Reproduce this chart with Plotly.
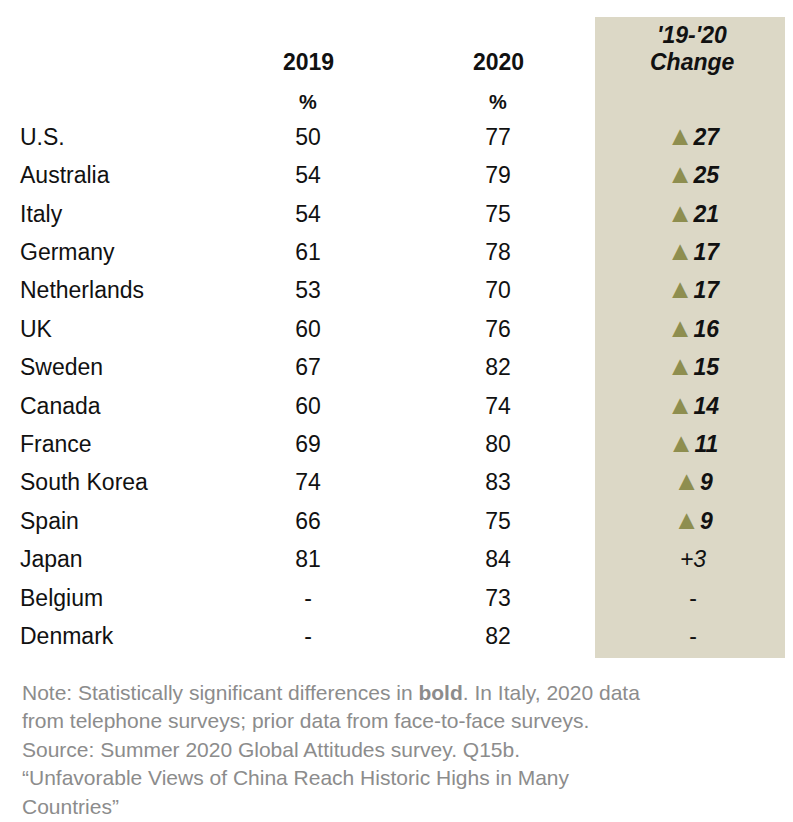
import plotly.graph_objects as go

countries = ["U.S.", "Australia", "Italy", "Germany", "Netherlands", "UK", "Sweden",
             "Canada", "France", "South Korea", "Spain", "Japan", "Belgium", "Denmark"]
v2019 = ["50", "54", "54", "61", "53", "60", "67", "60", "69", "74", "66", "81", "-", "-"]
v2020 = ["77", "79", "75", "78", "70", "76", "82", "74", "80", "83", "75", "84", "73", "82"]
change = [27, 25, 21, 17, 17, 16, 15, 14, 11, 9, 9, 3, None, None]
significant = [True] * 11 + [False] * 3

notes = [
    "Note: Statistically significant differences in <b>bold</b>. In Italy, 2020 data",
    "from telephone surveys; prior data from face-to-face surveys.",
    "Source: Summer 2020 Global Attitudes survey. Q15b.",
    "\u201cUnfavorable Views of China Reach Historic Highs in Many",
    "Countries\u201d",
]

W, H = 793, 822
DX, DY = -8, -6  # the page adds a small body margin
row_y = [137 + DY + i * 38.4 for i in range(len(countries))]
FONT = "Liberation Sans, Arial, sans-serif"
OLIVE = "#8e8e4f"

def fmt_change(c, sig):
    if c is None:
        return "-"
    if sig:
        return f"<span style='color:{OLIVE};font-size:27px'>\u25b2</span><b><i>{c}</i></b>"
    return f"<i>+{c}</i>"

change_txt = [fmt_change(c, s) for c, s in zip(change, significant)]

fig = go.Figure()
fig.add_shape(type="rect", x0=595 + DX, x1=790 + DX, y0=15 + DY, y1=656 + DY,
              fillcolor="#dcd8c6", line_width=0, layer="below")

font = dict(family=FONT, size=23, color="#111")
fig.add_trace(go.Scatter(x=[20 + DX] * len(countries), y=row_y, text=countries,
                         mode="text", textposition="middle right", textfont=font))
fig.add_trace(go.Scatter(x=[308 + DX] * len(countries), y=row_y, text=v2019,
                         mode="text", textposition="middle center", textfont=font))
fig.add_trace(go.Scatter(x=[498 + DX] * len(countries), y=row_y, text=v2020,
                         mode="text", textposition="middle center", textfont=font))
fig.add_trace(go.Scatter(x=[693 + DX] * len(countries), y=row_y, text=change_txt,
                         mode="text", textposition="middle center", textfont=font))

hdr = dict(family=FONT, size=23, color="#111")
for x, t in [(308, "<b>2019</b>"), (498, "<b>2020</b>")]:
    fig.add_annotation(x=x + DX, y=60 + DY, text=t, showarrow=False, font=hdr)
    fig.add_annotation(x=x + DX, y=100 + DY, text="<b>%</b>", showarrow=False,
                       font=dict(family=FONT, size=20, color="#111"))
fig.add_annotation(x=692 + DX, y=33 + DY, text="<b><i>'19-'20</i></b>", showarrow=False, font=hdr)
fig.add_annotation(x=692 + DX, y=60 + DY, text="<b><i>Change</i></b>", showarrow=False, font=hdr)

for i, line in enumerate(notes):
    fig.add_annotation(x=20 + DX, y=690 + DY + i * 28.5, text=line, showarrow=False, xanchor="left",
                       font=dict(family=FONT, size=21, color="#8c8c8c"))

fig.update_layout(
    width=W, height=H, margin=dict(l=0, r=0, t=0, b=0),
    paper_bgcolor="white", plot_bgcolor="white", showlegend=False,
    xaxis=dict(range=[0, W], visible=False, fixedrange=True),
    yaxis=dict(range=[H, 0], visible=False, fixedrange=True),
)
fig.write_html("out.html")
